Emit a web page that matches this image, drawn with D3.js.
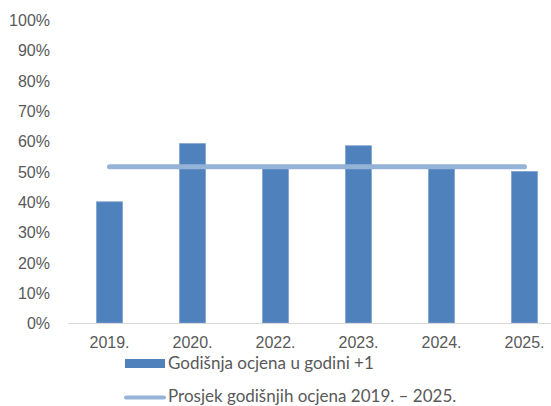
<!DOCTYPE html>
<html>
<head>
<meta charset="utf-8">
<script src="https://cdn.jsdelivr.net/npm/d3@7"></script>
<style>
    body { margin: 0; background: #fff; }
    svg { display: block; font-family: Lato, "Open Sans", sans-serif; }
    .tick text { fill: #595959; font-size: 16px; }
</style>
</head>
<body>
<div id="chart"></div>
<script>
// Chart data
const years = ['2019.', '2020.', '2022.', '2023.', '2024.', '2025.'];
const grades = [0.40, 0.592, 0.515, 0.585, 0.512, 0.50];
const average = [0.516, 0.516, 0.516, 0.516, 0.516, 0.516];
const yTicks = [0, 0.1, 0.2, 0.3, 0.4, 0.5, 0.6, 0.7, 0.8, 0.9, 1];
const legendLabels = ['Godišnja ocjena u godini +1', 'Prosjek godišnjih ocjena 2019. – 2025.'];

const width = 551;
const height = 406;

const chart = d3.select('#chart')
    .append('svg')
    .attr('width', width)
    .attr('height', height);

// X scale
const x = d3.scaleBand()
    .domain(years)
    .range([68, 566])
    .paddingInner(0.687)
    .paddingOuter(0.3435);

// Y scale
const y = d3.scaleLinear()
    .domain([0, 1])
    .range([323, 20]);

// Y axis (labels only)
const yAxis = chart.append('g')
    .attr('transform', 'translate(50,0)')
    .call(d3.axisLeft(y).tickValues(yTicks).tickFormat(d3.format('.0%')).tickSize(0).tickPadding(0));
yAxis.select('.domain').remove();
yAxis.selectAll('text').attr('dy', '0.35em');

// Bars
chart.append('g')
    .selectAll('rect')
    .data(grades)
    .join('rect')
    .attr('x', (d, i) => x(years[i]))
    .attr('y', d => y(d))
    .attr('width', x.bandwidth())
    .attr('height', d => y(0) - y(d))
    .attr('fill', '#4f81bd')
    .attr('stroke', '#7fa2d0')
    .attr('stroke-width', 0.8);

// X axis
const xAxis = chart.append('g')
    .attr('transform', `translate(0,${y(0)})`)
    .call(d3.axisBottom(x).tickSize(0).tickPadding(14));
xAxis.select('.domain').attr('stroke', '#d9d9d9').attr('stroke-width', 1)
    .attr('d', 'M68,0.5H551');

// Average line
const line = d3.line()
    .x((d, i) => x(years[i]) + x.bandwidth() / 2)
    .y(d => y(d));

chart.append('path')
    .datum(average)
    .attr('d', line)
    .attr('fill', 'none')
    .attr('stroke', '#95b3d7')
    .attr('stroke-width', 5)
    .attr('stroke-linecap', 'round');

// Legend
const legend = chart.append('g')
    .attr('font-size', '17px')
    .attr('fill', '#595959');

legend.append('rect')
    .attr('x', 125).attr('y', 359)
    .attr('width', 40).attr('height', 9)
    .attr('fill', '#4f81bd');
legend.append('text')
    .attr('x', 168).attr('y', 369)
    .text(legendLabels[0]);

legend.append('line')
    .attr('x1', 126).attr('x2', 164)
    .attr('y1', 397.5).attr('y2', 397.5)
    .attr('stroke', '#95b3d7')
    .attr('stroke-width', 4)
    .attr('stroke-linecap', 'round');
legend.append('text')
    .attr('x', 168).attr('y', 402)
    .text(legendLabels[1]);
</script>
</body>
</html>
